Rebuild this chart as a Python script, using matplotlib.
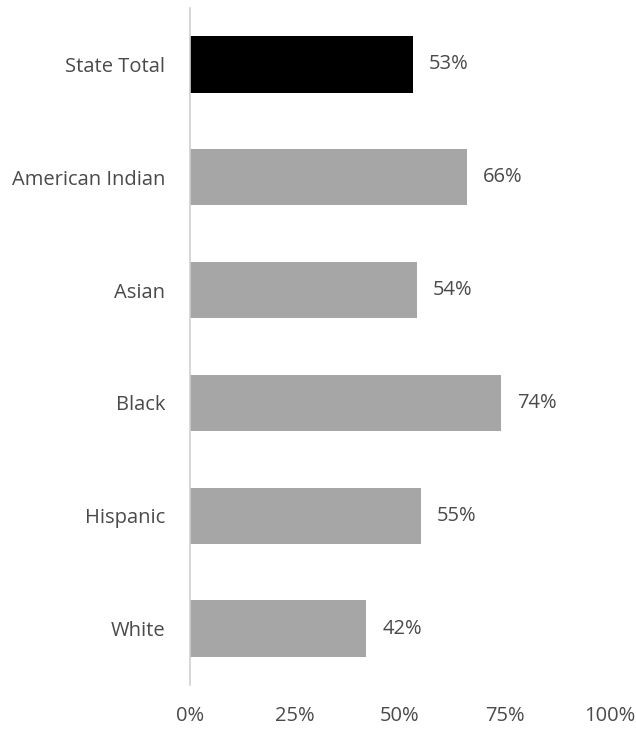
import matplotlib.pyplot as plt

categories = ["State Total", "American Indian", "Asian", "Black", "Hispanic", "White"]
values = [53, 66, 54, 74, 55, 42]
bar_colors = ["#000000", "#A6A6A6", "#A6A6A6", "#A6A6A6", "#A6A6A6", "#A6A6A6"]
tick_vals = [0, 25, 50, 75, 100]
tick_labels = ["0%", "25%", "50%", "75%", "100%"]

TEXT = "#4A4A4A"
W, H = 636, 730

plt.rcParams["font.family"] = ["Open Sans", "DejaVu Sans"]

fig = plt.figure(figsize=(W / 100, H / 100), dpi=100)
ax = fig.add_axes([190 / W, 1 - 685 / H, 420 / W, 677 / H])

ypos = list(range(len(categories)))
ax.barh(ypos, values, height=0.5, color=bar_colors)
ax.set_ylim(len(categories) - 0.5, -0.5)
ax.set_xlim(0, 100)

for y, v in zip(ypos, values):
    ax.text(v + 3.8, y, f"{v}%", va="center", ha="left", fontsize=14.5, color=TEXT)

ax.set_yticks(ypos)
ax.set_yticklabels(categories, fontsize=14.5, color=TEXT)
ax.set_xticks(tick_vals)
ax.set_xticklabels(tick_labels, fontsize=14.5, color=TEXT)
ax.tick_params(axis="both", length=0)
ax.tick_params(axis="y", pad=18)
ax.tick_params(axis="x", pad=15)

for side in ["top", "right", "bottom"]:
    ax.spines[side].set_visible(False)
ax.spines["left"].set_color("#D0D0D0")
ax.spines["left"].set_linewidth(1.2)

fig.savefig("out.png", dpi=100, facecolor="white")
